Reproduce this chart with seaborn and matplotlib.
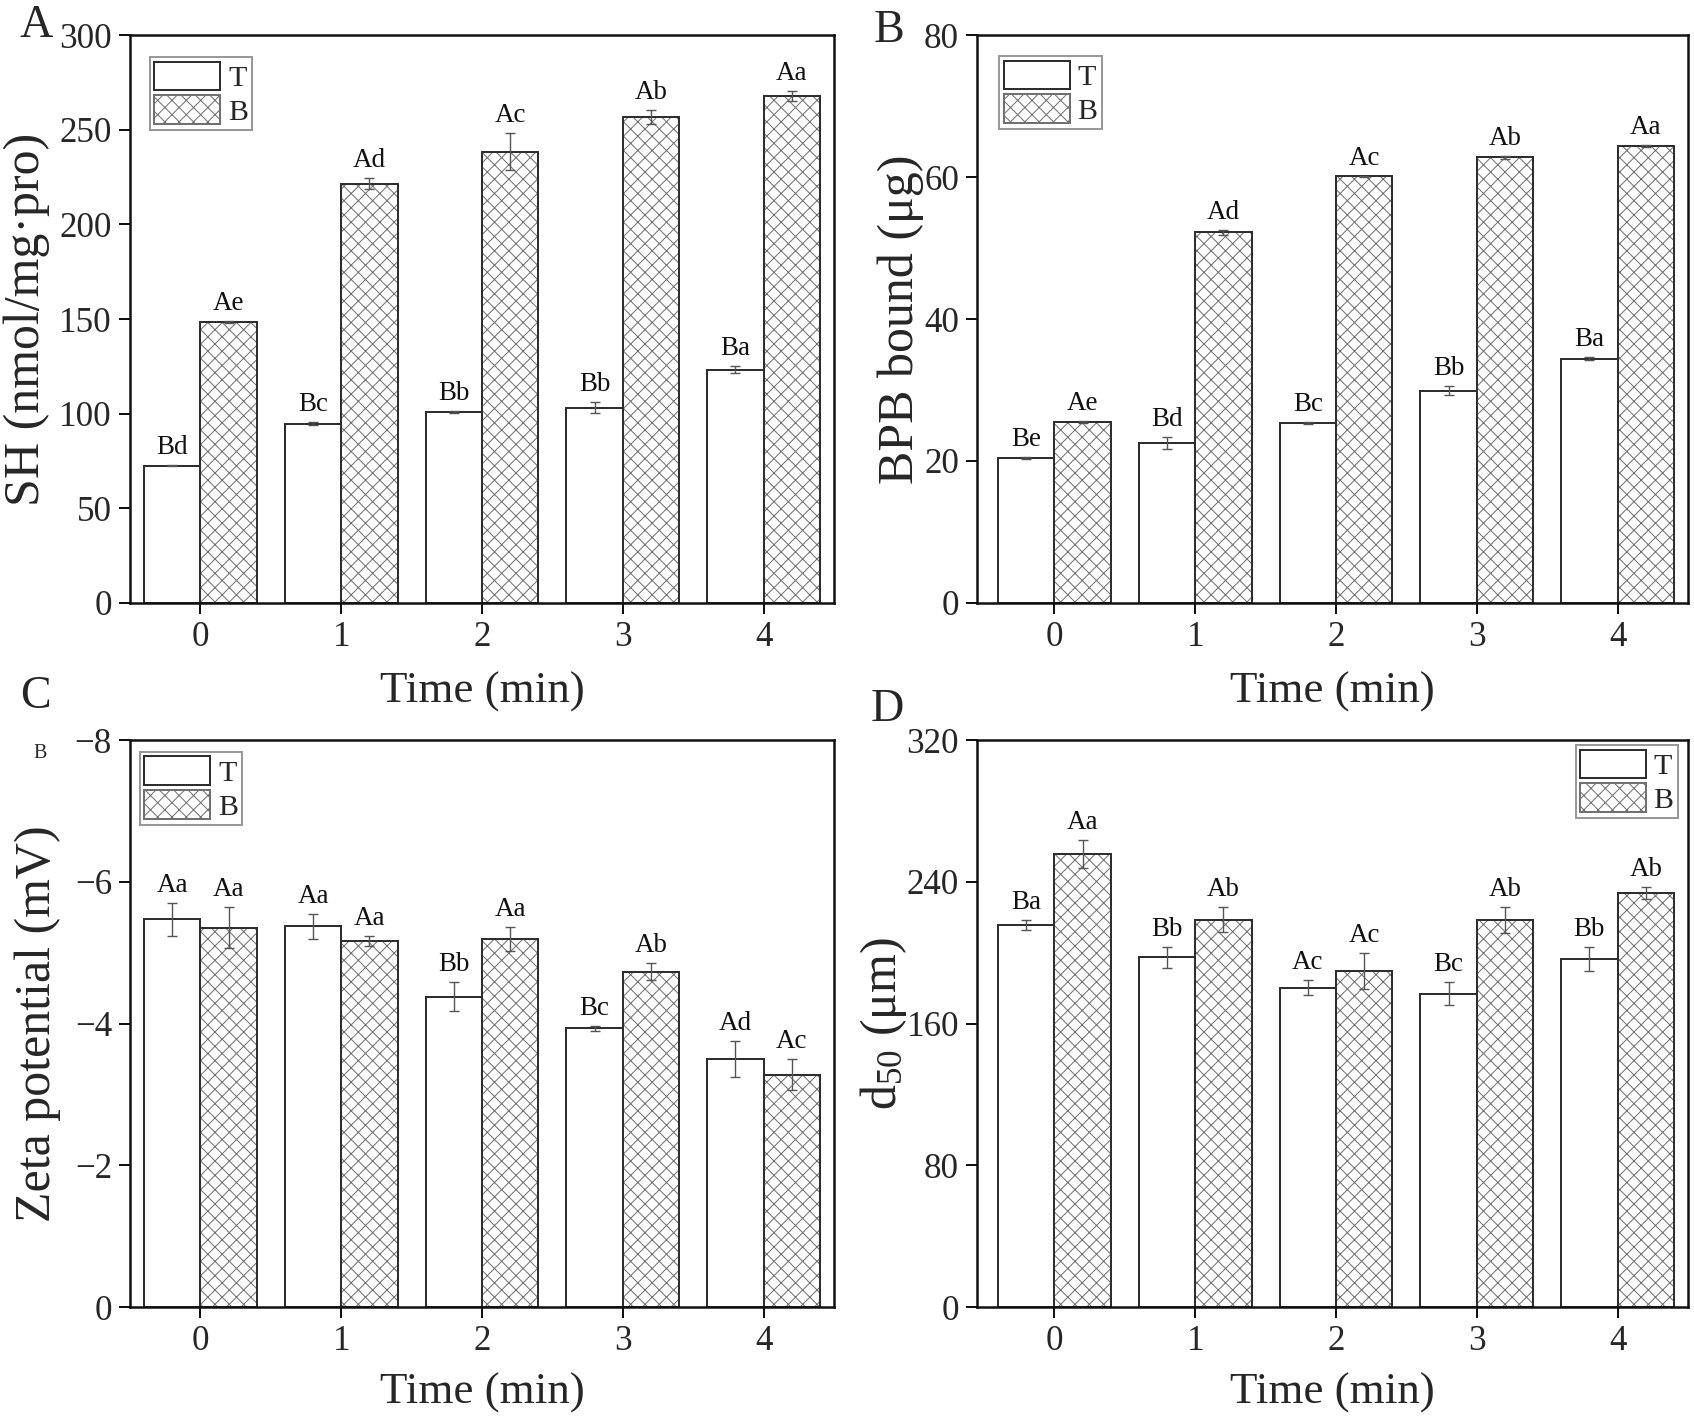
import numpy as np
import pandas as pd
import matplotlib
matplotlib.use("Agg")
import matplotlib.pyplot as plt
import seaborn as sns
from matplotlib.patches import Rectangle

# ---------------- data ----------------
times = ["0", "1", "2", "3", "4"]
groups = ["T", "B"]

sh_T = [72.6, 94.8, 100.8, 103.2, 123.3]
sh_T_err = [0.5, 1.0, 0.5, 3.0, 2.0]
sh_B = [148.3, 221.5, 238.4, 256.6, 267.9]
sh_B_err = [0.6, 2.8, 9.6, 3.8, 2.6]
sh_T_lab = ["Bd", "Bc", "Bb", "Bb", "Ba"]
sh_B_lab = ["Ae", "Ad", "Ac", "Ab", "Aa"]

bpb_T = [20.4, 22.5, 25.3, 29.9, 34.4]
bpb_T_err = [0.15, 0.85, 0.15, 0.6, 0.2]
bpb_B = [25.5, 52.2, 60.1, 62.8, 64.4]
bpb_B_err = [0.2, 0.4, 0.1, 0.2, 0.15]
bpb_T_lab = ["Be", "Bd", "Bc", "Bb", "Ba"]
bpb_B_lab = ["Ae", "Ad", "Ac", "Ab", "Aa"]

zeta_T = [-5.47, -5.37, -4.38, -3.93, -3.50]
zeta_T_err = [0.23, 0.175, 0.2, 0.04, 0.25]
zeta_B = [-5.35, -5.17, -5.19, -4.73, -3.28]
zeta_B_err = [0.29, 0.07, 0.17, 0.12, 0.22]
zeta_T_lab = ["Aa", "Aa", "Bb", "Bc", "Ad"]
zeta_B_lab = ["Aa", "Aa", "Aa", "Ab", "Ac"]

d50_T = [215.5, 197.4, 180.2, 176.9, 196.3]
d50_T_err = [3.0, 6.0, 4.3, 6.7, 6.7]
d50_B = [255.7, 218.6, 189.6, 218.4, 233.7]
d50_B_err = [8.0, 7.0, 10.0, 7.5, 3.4]
d50_T_lab = ["Ba", "Bb", "Ac", "Bc", "Bb"]
d50_B_lab = ["Aa", "Ab", "Ac", "Ab", "Ab"]

# ---------------- style ----------------
DPI = 86
W, H = 1694, 1419


def pt(px):
    return px * 72.0 / DPI


sns.set_style("ticks")
plt.rcParams["font.family"] = ["Liberation Serif", "DejaVu Serif"]
plt.rcParams["mathtext.fontset"] = "custom"
plt.rcParams["mathtext.rm"] = "Liberation Serif"
plt.rcParams["mathtext.it"] = "Liberation Serif:italic"
plt.rcParams["hatch.linewidth"] = pt(1.0)
plt.rcParams["axes.unicode_minus"] = True

fig = plt.figure(figsize=(W / DPI, H / DPI), dpi=DPI)
fig.patch.set_facecolor("white")


def rect(l, t, r, b):
    return [l / W, 1 - b / H, (r - l) / W, (b - t) / H]


panels = [
    dict(rect=rect(130, 35, 834, 603), T=sh_T, Te=sh_T_err, B=sh_B, Be=sh_B_err,
         TL=sh_T_lab, BL=sh_B_lab, ylim=(0, 300), yticks=[0, 50, 100, 150, 200, 250, 300],
         ylabel="SH (nmol/mg·pro)", xlim=(-0.5, 4.5),
         leg=dict(loc="upper left", bbox_to_anchor=(0.0284, 0.961)),
         ylab_x=-0.113, xlab_y=-0.121),
    dict(rect=rect(977, 35, 1688, 603), T=bpb_T, Te=bpb_T_err, B=bpb_B, Be=bpb_B_err,
         TL=bpb_T_lab, BL=bpb_B_lab, ylim=(0, 80), yticks=[0, 20, 40, 60, 80],
         ylabel="BPB bound (μg)", xlim=(-0.55, 4.5),
         leg=dict(loc="upper left", bbox_to_anchor=(0.031, 0.963)),
         ylab_x=-0.074, xlab_y=-0.121),
    dict(rect=rect(130, 740, 834, 1307), T=zeta_T, Te=zeta_T_err, B=zeta_B, Be=zeta_B_err,
         TL=zeta_T_lab, BL=zeta_B_lab, ylim=(0, -8), yticks=[0, -2, -4, -6, -8],
         ylabel="Zeta potential (mV)", xlim=(-0.5, 4.5),
         leg=dict(loc="upper left", bbox_to_anchor=(0.0142, 0.979)),
         ylab_x=-0.098, xlab_y=-0.115),
    dict(rect=rect(977, 740, 1688, 1307), T=d50_T, Te=d50_T_err, B=d50_B, Be=d50_B_err,
         TL=d50_T_lab, BL=d50_B_lab, ylim=(0, 320), yticks=[0, 80, 160, 240, 320],
         ylabel=r"d$_{\mathrm{50}}$ (μm)", xlim=(-0.55, 4.5),
         leg=dict(loc="upper right", bbox_to_anchor=(0.986, 0.991)),
         ylab_x=-0.095, xlab_y=-0.115),
]

EDGE = "#2e2e2e"
HATCHC = "#707070"
ERRC = "#555555"

for P in panels:
    ax = fig.add_axes(P["rect"])
    df = pd.DataFrame({
        "Time": times * 2,
        "Group": ["T"] * len(times) + ["B"] * len(times),
        "Value": list(P["T"]) + list(P["B"]),
    })
    sns.barplot(data=df, x="Time", y="Value", hue="Group", order=times,
                hue_order=groups, palette={"T": "white", "B": "white"},
                saturation=1, edgecolor=EDGE, linewidth=pt(2.0),
                errorbar=None, width=0.8, legend=False, ax=ax, zorder=2)
    cT, cB = ax.containers[0], ax.containers[1]
    # hatched bars: grey hatch lines, dark outline drawn on top of each bar
    for p in cB:
        p.set_edgecolor(HATCHC)
        p.set_hatch("xx")
        ax.add_patch(Rectangle((p.get_x(), p.get_y()), p.get_width(), p.get_height(),
                               fill=False, edgecolor=EDGE, linewidth=pt(2.0), zorder=2.5))

    for cont, vals, errs, labs in ((cT, P["T"], P["Te"], P["TL"]),
                                   (cB, P["B"], P["Be"], P["BL"])):
        xs = [p.get_x() + p.get_width() / 2 for p in cont]
        ax.errorbar(xs, vals, yerr=errs, fmt="none", ecolor=ERRC,
                    elinewidth=pt(1.4), capsize=pt(5), capthick=pt(1.4), zorder=3)
        for x, v, e, lab in zip(xs, vals, errs, labs):
            top = v + np.sign(v) * e
            ax.annotate(lab, (x, top), xytext=(0, pt(5)), textcoords="offset points",
                        ha="center", va="bottom", fontsize=pt(27), color="#111111")

    ax.set_xlim(*P["xlim"])
    ax.set_ylim(*P["ylim"])
    ax.set_yticks(P["yticks"])
    for s in ax.spines.values():
        s.set_visible(True)
        s.set_linewidth(pt(2.5))
        s.set_color("#111111")
    ax.tick_params(axis="both", which="major", direction="out", length=pt(11),
                   width=pt(2), labelsize=pt(35), pad=pt(7), color="#111111",
                   bottom=True, left=True, top=False, right=False)
    ax.set_xlabel("Time (min)", fontsize=pt(45))
    ax.set_ylabel(P["ylabel"], fontsize=pt(50))
    ax.xaxis.set_label_coords(0.5, P["xlab_y"])
    ax.yaxis.set_label_coords(P["ylab_x"], 0.5)
    ax.grid(False)

    leg = ax.legend([cT[0], cB[0]], groups, borderaxespad=0, fontsize=pt(30),
                    handlelength=2.2, handleheight=1.1, handletextpad=0.25,
                    borderpad=0.15, labelspacing=0.1, fancybox=False,
                    framealpha=1, edgecolor="#999999", **P["leg"])
    leg.get_frame().set_linewidth(pt(2))

# panel letters
for txt, x, y in (("A", 20, 37), ("B", 874, 42), ("C", 20, 708), ("D", 871, 721)):
    fig.text(x / W, 1 - y / H, txt, fontsize=pt(46), va="baseline", ha="left")
# stray small letter present in the original figure
fig.text(33 / W, 1 - 758 / H, "B", fontsize=pt(20), va="baseline", ha="left")

fig.savefig("out.png", dpi=DPI, facecolor="white")
